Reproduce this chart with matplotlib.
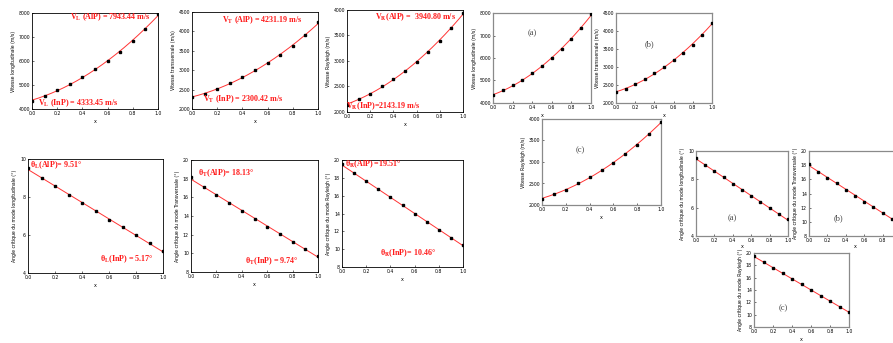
import numpy as np
import matplotlib
matplotlib.use("Agg")
import matplotlib.pyplot as plt

plt.rcParams["mathtext.fontset"] = "stix"

W, H = 893, 343

# Composition x of the In(1-x)Al(x)P alloy
x = [0.0, 0.1, 0.2, 0.3, 0.4, 0.5, 0.6, 0.7, 0.8, 0.9, 1.0]

# Acoustic velocities (m/s)
v_long = [4333.45, 4556, 4778, 5042, 5333, 5653, 6000, 6389, 6847, 7333, 7943.44]
v_trans = [2300.42, 2395, 2524, 2670, 2825, 2997, 3186, 3392, 3624, 3899, 4231.19]
v_rayl = [2143.19, 2248, 2359, 2503, 2647, 2810, 2980, 3176, 3399, 3647, 3940.80]

# Critical angles (degrees)
th_long = [9.51, 9.02, 8.58, 8.13, 7.67, 7.25, 6.81, 6.40, 5.98, 5.56, 5.17]
th_trans = [18.13, 17.10, 16.24, 15.42, 14.52, 13.66, 12.84, 12.05, 11.26, 10.47, 9.74]
th_rayl = [19.51, 18.50, 17.60, 16.70, 15.80, 14.90, 14.00, 13.10, 12.20, 11.26, 10.46]

ylab_vl = "Vitesse longitudinale (m/s)"
ylab_vt = "Vitesse transversale (m/s)"
ylab_vr = "Vitesse Rayleigh (m/s)"
ylab_tl = "Angle critique du mode longitudinale (°)"
ylab_tt = "Angle critique du mode Transversale (°)"
ylab_tr = "Angle critique du mode Rayleigh (°)"

x_ticks = [0.0, 0.2, 0.4, 0.6, 0.8, 1.0]

fig = plt.figure(figsize=(W / 100, H / 100), dpi=100)
fig.patch.set_facecolor("white")


def rect(x0, y0, x1, y1):
    return [x0 / W, 1 - y1 / H, (x1 - x0) / W, (y1 - y0) / H]


def panel(box, y, deg, ylim, yticks, ylabel, frame="black", fw=0.6, xt=x_ticks, xpad=2):
    ax = fig.add_axes(rect(*box))
    xs = np.array(x)
    ys = np.array(y)
    coef = np.polyfit(xs, ys, deg)
    xf = np.linspace(0, 1, 200)
    ax.plot(xf, np.polyval(coef, xf), color="#ff3333", lw=0.7, zorder=2)
    ax.plot(xs, ys, ls="none", marker="s", ms=2.0, color="black", zorder=3)
    ax.set_xlim(0, 1)
    ax.set_ylim(*ylim)
    ax.set_xticks(xt)
    ax.set_xticklabels([f"{t:.1f}" for t in xt])
    ax.set_yticks(yticks)
    ax.tick_params(direction="in", length=1.5, width=0.4, labelsize=3.3, pad=1.5)
    ax.set_ylabel(ylabel, fontsize=3.3, labelpad=2)
    ax.set_xlabel("x", fontsize=3.5, labelpad=xpad)
    for s in ax.spines.values():
        s.set_color(frame)
        s.set_linewidth(fw)
    return ax


def label(px, py, s):
    fig.text(px / W, 1 - py / H, s, color="#ff1a1a", fontsize=5.8,
             family="Liberation Serif", fontweight="bold", va="center", ha="left")


def tag(px, py, s):
    fig.text(px / W, 1 - py / H, s, color="#444444", fontsize=6,
             family="Liberation Serif", va="center", ha="center")


# Left block: velocities
panel((32, 13, 158, 109), v_long, 2, (4000, 8000), range(4000, 8001, 1000), ylab_vl)
panel((192, 12, 318, 109), v_trans, 2, (2000, 4500), range(2000, 4501, 500), ylab_vt)
panel((347, 10, 463, 112), v_rayl, 2, (2000, 4000), range(2000, 4001, 500), ylab_vr)

label(70, 17, r"V$_\mathbf{L}$ (AlP) = 7943.44 m/s")
label(38, 103, r"V$_\mathbf{L}$ (InP) = 4333.45 m/s")
label(222, 20, r"V$_\mathbf{T}$ (AlP) = 4231.19 m/s")
label(203, 99, r"V$_\mathbf{T}$ (InP) = 2300.42 m/s")
label(375, 17, r"V$_\mathbf{R}$(AlP) =  3940.80 m/s")
label(346, 106, r"V$_\mathbf{R}$(InP)=2143.19 m/s")

# Left block: critical angles
panel((28, 159, 163, 273), th_long, 1, (4, 10), [4, 6, 8, 10], ylab_tl)
panel((191, 160, 318, 272), th_trans, 1, (8, 20), range(8, 21, 2), ylab_tt)
panel((342, 160, 463, 267), th_rayl, 1, (8, 20), range(8, 21, 2), ylab_tr)

label(30, 165, r"θ$_\mathbf{L}$(AlP)= 9.51°")
label(100, 259, r"θ$_\mathbf{L}$(InP) = 5.17°")
label(198, 173, r"θ$_\mathbf{T}$(AlP)= 18.13°")
label(245, 261, r"θ$_\mathbf{T}$(InP) = 9.74°")
label(345, 164, r"θ$_\mathbf{R}$(AlP) =19.51°")
label(380, 253, r"θ$_\mathbf{R}$(InP)= 10.46°")

# Right block: same quantities, smaller panels
g = "#8a8a8a"
panel((493, 13, 591, 103), v_long, 2, (4000, 8000), range(4000, 8001, 1000), ylab_vl, g, 0.9)
panel((616, 13, 712, 103), v_trans, 2, (2000, 4500), range(2000, 4501, 500), ylab_vt, g, 0.9)
panel((542, 119, 661, 205), v_rayl, 2, (2000, 4000), range(2000, 4001, 500), ylab_vr, g, 0.9)
panel((696, 151, 788, 236), th_long, 1, (4, 10), [4, 6, 8, 10], ylab_tl, g, 0.9, xpad=0.5)
panel((809, 151, 901, 236), th_trans, 1, (8, 20), range(8, 21, 2), ylab_tt, g, 0.9,
      xt=[0.0, 0.2, 0.4, 0.6, 0.8], xpad=0.5)
panel((754, 253, 849, 327), th_rayl, 1, (8, 20), range(8, 21, 2), ylab_tr, g, 0.9)

tag(532, 33, "(a)")
tag(649, 44, "(b)")
tag(580, 150, "(c)")
tag(732, 218, "(a)")
tag(838, 218, "(b)")
tag(783, 308, "(c)")

fig.savefig("out.png", dpi=100)
